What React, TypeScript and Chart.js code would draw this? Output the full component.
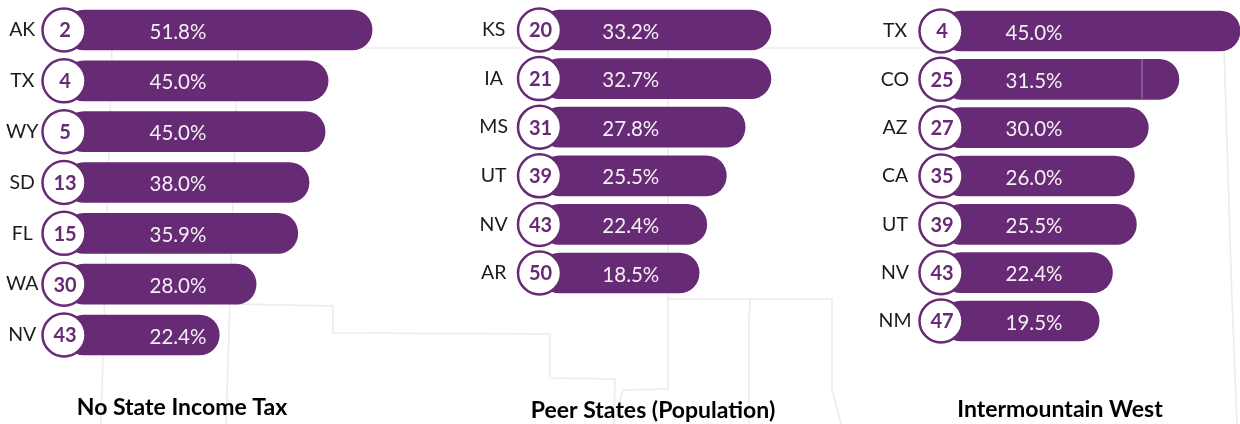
import React, { useEffect, useRef } from "react";
import { Chart, registerables } from "chart.js";

Chart.register(...registerables);

const FONT = "Lato";
const PURPLE = "#672b75";
const INK = "#1b1b1b";
const MAP_LINE = "#ececec";

// Panel 1
const noTaxStates = ["AK", "TX", "WY", "SD", "FL", "WA", "NV"];
const noTaxRanks = [2, 4, 5, 13, 15, 30, 43];
const noTaxValues = ["51.8%", "45.0%", "45.0%", "38.0%", "35.9%", "28.0%", "22.4%"];
const noTaxBars = [51.8, 44.4, 43.9, 41.2, 39.3, 32.3, 26.1];

// Panel 2
const peerStates = ["KS", "IA", "MS", "UT", "NV", "AR"];
const peerRanks = [20, 21, 31, 39, 43, 50];
const peerValues = ["33.2%", "32.7%", "27.8%", "25.5%", "22.4%", "18.5%"];
const peerBars = [33.2, 33.2, 29.5, 26.8, 24.0, 22.9];

// Panel 3
const westStates = ["TX", "CO", "AZ", "CA", "UT", "NV", "NM"];
const westRanks = [4, 25, 27, 35, 39, 43, 47];
const westValues = ["45.0%", "31.5%", "30.0%", "26.0%", "25.5%", "22.4%", "19.5%"];
const westBars = [45, 35.8, 31.2, 29.1, 29.4, 25.8, 23.8];

// Faint state-border backdrop
const mapOutlines = [
  "M112 48 L1224 48",
  "M112 48 L101 424",
  "M238 48 L226 424",
  "M234 304 L333 306 L333 333 L550 334 L550 378 L615 379 L614 424",
  "M668 48 L668 389 L623 390 L614 424",
  "M668 299 L832 299 L832 390 L841 424",
  "M750 299 L750 312 L749 313 L749 424",
  "M1224 48 L1232 300 L1237 424",
];

type Panel = {
  title: string;
  states: string[];
  ranks: number[];
  values: string[];
  bars: number[];
  left: number;
  width: number;
  axisWidth: number;
  tickPad: number;
  xMax: number;
  labelAt: number;
  top: number;
  titleTop: number;
  titleBottom: number;
};

const panels: Panel[] = [
  { title: "No State Income Tax", states: noTaxStates, ranks: noTaxRanks, values: noTaxValues, bars: noTaxBars,
    left: -20, width: 404, axisWidth: 84, tickPad: 25.5, xMax: 53.8, labelAt: 19.16, top: 4.6, titleTop: 33.3, titleBottom: 2.7 },
  { title: "Peer States (Population)", states: peerStates, ranks: peerRanks, values: peerValues, bars: peerBars,
    left: 460, width: 386, axisWidth: 79.5, tickPad: 31.5, xMax: 43.97, labelAt: 13.1, top: 5.7, titleTop: 99.1, titleBottom: 0 },
  { title: "Intermountain West", states: westStates, ranks: westRanks, values: westValues, bars: westBars,
    left: 870, width: 380, axisWidth: 71, tickPad: 29.5, xMax: 46.5, labelAt: 14.0, top: 6.8, titleTop: 51, titleBottom: 0.2 },
];

const rowText = (p: Panel) => ({
  id: "rowText",
  afterDatasetsDraw(chart: any) {
    const { ctx, scales } = chart;
    ctx.save();
    ctx.textAlign = "center";
    ctx.textBaseline = "middle";
    p.states.forEach((_, i) => {
      const y = scales.y.getPixelForValue(i);
      ctx.fillStyle = PURPLE;
      ctx.font = `bold 20px ${FONT}`;
      ctx.fillText(String(p.ranks[i]), scales.x.getPixelForValue(0) + 1, y + 1);
      ctx.fillStyle = "#f4eff5";
      ctx.font = `20.5px ${FONT}`;
      ctx.fillText(p.values[i], scales.x.getPixelForValue(p.labelAt), y + 2);
    });
    ctx.restore();
  },
});

function PanelChart({ panel }: { panel: Panel }) {
  const ref = useRef<HTMLCanvasElement>(null);
  useEffect(() => {
    const chart = new Chart(ref.current!, {
      type: "bar",
      data: {
        labels: panel.states,
        datasets: [
          {
            type: "line",
            data: panel.states.map(() => 0),
            showLine: false,
            pointRadius: 21.5,
            pointHoverRadius: 21.5,
            pointBackgroundColor: "#ffffff",
            pointBorderColor: PURPLE,
            pointBorderWidth: 2.5,
            clip: false,
            order: 1,
          },
          {
            type: "bar",
            data: panel.bars,
            backgroundColor: PURPLE,
            barThickness: 40,
            borderRadius: 20,
            borderSkipped: false,
            order: 2,
          },
        ],
      } as any,
      options: {
        indexAxis: "y",
        animation: false,
        responsive: false,
        maintainAspectRatio: false,
        layout: { autoPadding: false, padding: { top: panel.top, left: 0, right: 0, bottom: 0 } },
        scales: {
          x: { display: false, min: 0, max: panel.xMax },
          y: {
            type: "category",
            grid: { display: false, drawTicks: false },
            border: { display: false },
            afterFit: (axis: any) => {
              axis.width = panel.axisWidth;
              axis.paddingTop = 0;
              axis.paddingBottom = 0;
            },
            ticks: {
              autoSkip: false,
              crossAlign: "center",
              padding: panel.tickPad,
              color: INK,
              font: { family: FONT, size: 19.5 },
            },
          },
        },
        plugins: {
          legend: { display: false },
          tooltip: { enabled: false },
          title: {
            display: true,
            text: panel.title,
            position: "bottom",
            color: "#000000",
            font: { family: FONT, size: 23, weight: "bold", lineHeight: 1.2 },
            padding: { top: panel.titleTop, bottom: panel.titleBottom },
          },
        },
      } as any,
      plugins: [rowText(panel)],
    });
    return () => chart.destroy();
  }, [panel]);
  return (
    <canvas
      ref={ref}
      width={panel.width}
      height={424}
      style={{ position: "absolute", left: panel.left, top: 0, width: panel.width, height: 424 }}
    />
  );
}

export default function App() {
  return (
    <div style={{ position: "absolute", left: 0, top: 0, width: 1240, height: 424, overflow: "hidden", background: "#fff" }}>
      <svg width={1240} height={424} style={{ position: "absolute", left: 0, top: 0 }}>
        {mapOutlines.map((d) => (
          <path key={d} d={d} fill="none" stroke={MAP_LINE} strokeWidth={1.6} />
        ))}
      </svg>
      {panels.map((p) => (
        <PanelChart key={p.title} panel={p} />
      ))}
      <svg width={1240} height={424} style={{ position: "absolute", left: 0, top: 0, pointerEvents: "none" }}>
        <path d="M1142 59 L1142 99" stroke="#ffffff" strokeOpacity={0.4} strokeWidth={1} />
      </svg>
    </div>
  );
}
